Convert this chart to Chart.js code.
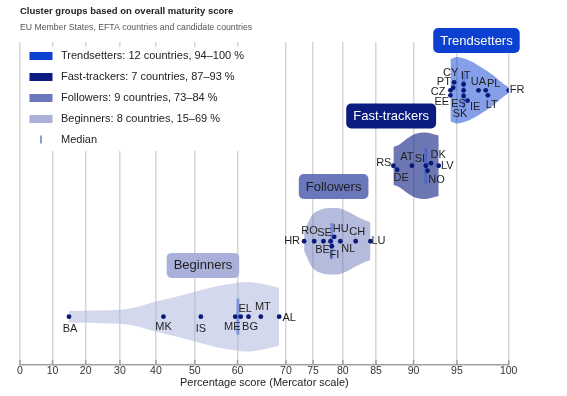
<!DOCTYPE html>
<html>
<head>
<meta charset="utf-8">
<title>Cluster groups based on overall maturity score</title>
<script src="https://cdn.jsdelivr.net/npm/chart.js@4.4.1/dist/chart.umd.min.js"></script>
<style>
  html, body { margin: 0; padding: 0; background: #fff; }
  #wrap { width: 567px; height: 396px; position: relative; }
</style>
</head>
<body>
<div id="wrap"><canvas id="chart"></canvas></div>
<script>
// Cluster groups, bottom row first
const groupNames = ['Beginners', 'Followers', 'Fast-trackers', 'Trendsetters'];
const groupRows = [1, 2, 3, 4];
const xTicks = [0, 10, 20, 30, 40, 50, 60, 70, 75, 80, 85, 90, 95, 100];

// Countries and scores (%)
const beginnerCodes = ['BA', 'MK', 'IS', 'ME', 'EL', 'BG', 'MT', 'AL'];
const beginnerScores = [15, 42, 51.5, 59.5, 60.7, 62.4, 65, 68.7];
const beginnerJitter = [0, 0, 0, 0, 0, 0, 0, 0];

const followerCodes = ['HR', 'RO', 'SE', 'BE', 'HU', 'FI', 'NL', 'CH', 'LU'];
const followerScores = [73.4, 75.2, 76.8, 78.0, 78.6, 78.2, 79.6, 82.0, 84.2];
const followerJitter = [0, 0, 0, 0, 0.058, -0.066, 0, 0, 0];

const fastCodes = ['RS', 'DE', 'AT', 'SI', 'DK', 'NO', 'LV'];
const fastScores = [87.4, 87.9, 89.8, 91.5, 92.1, 91.7, 93.0];
const fastJitter = [0, -0.053, 0, 0, 0.035, -0.066, 0];

const trendCodes = ['CY', 'PT', 'CZ', 'EE', 'IT', 'SK', 'ES', 'IE', 'UA', 'PL', 'LT', 'FR'];
const trendScores = [94.7, 94.6, 94.3, 94.3, 95.7, 95.7, 95.7, 96.1, 97.2, 97.9, 98.1, 100];
const trendJitter = [0.106, 0.035, 0, -0.066, 0.08, 0, -0.075, -0.137, 0, 0, -0.066, 0];

// Violin outlines: score positions and half widths (row units)
const beginnerViolinX = [15, 20, 25, 30, 35, 40, 45, 50, 55, 60, 62, 65, 68.7];
const beginnerViolinW = [0.08, 0.08, 0.086, 0.093, 0.13, 0.2, 0.26, 0.33, 0.4, 0.45, 0.46, 0.44, 0.38];
const followerViolinX = [73.4, 74.8, 76.4, 78, 79, 80.6, 82.8, 84.2];
const followerViolinW = [0.13, 0.34, 0.42, 0.44, 0.44, 0.4, 0.3, 0.25];
const fastViolinX = [87.4, 88.3, 89.2, 90.2, 91.5, 92.3, 93];
const fastViolinW = [0.25, 0.29, 0.36, 0.42, 0.44, 0.42, 0.4];
const trendViolinX = [94.3, 95, 96, 97.3, 98.6, 99.5, 100];
const trendViolinW = [0.41, 0.44, 0.41, 0.32, 0.2, 0.09, 0.04];

const codes = [beginnerCodes, followerCodes, fastCodes, trendCodes];
const scores = [beginnerScores, followerScores, fastScores, trendScores];
const jitter = [beginnerJitter, followerJitter, fastJitter, trendJitter];
const violinX = [beginnerViolinX, followerViolinX, fastViolinX, trendViolinX];
const violinW = [beginnerViolinW, followerViolinW, fastViolinW, trendViolinW];

// Styles
const groupColors = ['#a9b1da', '#6a78bb', '#0b1c80', '#0b40d1'];
const violinAlpha = [0.5, 0.5, 0.6, 0.5];
const tagTextColors = ['#1e1e1e', '#1e1e1e', '#ffffff', '#ffffff'];
const tagAnchors = [52, 78.5, 87.1, 97];
const tagRise = [0.68, 0.725, 0.66, 0.66];
const dotColor = '#0a1a7a';
const medianColor = 'rgba(45, 85, 215, 0.45)';
const FONT = '"Liberation Sans", Arial, sans-serif';

// label offsets from the dot, in pixels
const labelOffsets = {
    BA: [1, 12], MK: [0, 10], IS: [0, 12], ME: [-3, 10], EL: [4.5, -8], BG: [1.5, 10], MT: [2, -10], AL: [10, 1],
    HR: [-12, 0], RO: [-4.6, -10], SE: [1, -8.4], BE: [-8, 9], HU: [6.5, -8], FI: [2.5, 8.3], NL: [8, 7.6], CH: [1.5, -9], LU: [8, 0],
    RS: [-9.6, -2.7], DE: [4, 8.3], AT: [-5, -8.3], SI: [-6, -6.7], DK: [7.3, -8.3], NO: [9, 9.7], LV: [8.5, 0],
    CY: [-3.5, -9], PT: [-9.3, -5.4], CZ: [-12.4, 1.6], EE: [-8.7, 7], IT: [2, -8.6], SK: [-3.6, 23.3], ES: [-5, 8.3],
    IE: [7.6, 6], UA: [0, -8.4], PL: [8, -6.4], LT: [4, 9.3], FR: [8.4, 0]
};

// Mercator scale: score -> latitude, then Mercator projection
const MAX_LAT = 73.5 * Math.PI / 180;
function merc(p) {
    const phi = p / 100 * MAX_LAT;
    return Math.log(Math.tan(Math.PI / 4 + phi / 2));
}
function invMerc(m) {
    return (2 * Math.atan(Math.exp(m)) - Math.PI / 2) / MAX_LAT * 100;
}

class MercatorScale extends Chart.Scale {
    determineDataLimits() {
        this.min = this.options.min ?? 0;
        this.max = this.options.max ?? 100;
    }
    buildTicks() {
        return xTicks.map(v => ({ value: v }));
    }
    configure() {
        super.configure();
        this._start = merc(this.min);
        this._range = merc(this.max) - this._start;
    }
    getLabelForValue(v) {
        return String(v);
    }
    getPixelForValue(v) {
        return this.getPixelForDecimal((merc(v) - this._start) / this._range);
    }
    getValueForPixel(px) {
        return invMerc(this._start + this.getDecimalForPixel(px) * this._range);
    }
    getPixelForTick(i) {
        return this.getPixelForValue(this.ticks[i].value);
    }
}
MercatorScale.id = 'mercator';
MercatorScale.defaults = {};
Chart.register(MercatorScale);

function rgba(hex, a) {
    const n = parseInt(hex.slice(1), 16);
    return `rgba(${n >> 16}, ${(n >> 8) & 255}, ${n & 255}, ${a})`;
}

function median(arr) {
    const s = [...arr].sort((a, b) => a - b);
    const m = Math.floor(s.length / 2);
    return s.length % 2 ? s[m] : (s[m - 1] + s[m]) / 2;
}

function legendText(g) {
    const v = scores[g];
    const lo = Math.round(Math.min(...v));
    const hi = Math.round(Math.max(...v));
    return `${groupNames[g]}: ${v.length} countries, ${lo}\u2013${hi} %`;
}

// Build datasets: violins (top+bottom with fill between), medians, dots
const datasets = [];
groupNames.forEach((name, g) => {
    const row = groupRows[g];
    datasets.push({
        label: name + ' violin',
        data: violinX[g].map((x, i) => ({ x, y: row + violinW[g][i] })),
        fill: '+1',
        backgroundColor: rgba(groupColors[g], violinAlpha[g]),
        borderWidth: 0,
        pointRadius: 0,
        cubicInterpolationMode: 'monotone',
        order: 3
    });
    datasets.push({
        label: name + ' violin base',
        data: violinX[g].map((x, i) => ({ x, y: row - violinW[g][i] })),
        fill: false,
        borderWidth: 0,
        pointRadius: 0,
        cubicInterpolationMode: 'monotone',
        order: 3
    });
    const med = median(scores[g]);
    datasets.push({
        label: name + ' median',
        data: [{ x: med, y: row - 0.24 }, { x: med, y: row + 0.24 }],
        borderColor: medianColor,
        borderWidth: 3,
        pointRadius: 0,
        fill: false,
        order: 2
    });
    datasets.push({
        label: name,
        codes: codes[g],
        data: scores[g].map((x, i) => ({ x, y: row + jitter[g][i] })),
        showLine: false,
        pointRadius: 2.4,
        pointBackgroundColor: dotColor,
        pointBorderWidth: 0,
        order: 1
    });
});

const legendPlugin = {
    id: 'clusterLegend',
    beforeDatasetsDraw(chart) {
        const { ctx, chartArea } = chart;
        const left = chartArea.left, top = chartArea.top;
        ctx.save();
        // inward tick marks on the axis
        const xs = chart.scales.x;
        ctx.strokeStyle = '#a0a0a0';
        ctx.lineWidth = 1.5;
        xs.ticks.forEach((t, i) => {
            const px = xs.getPixelForTick(i);
            ctx.beginPath();
            ctx.moveTo(px, chartArea.bottom);
            ctx.lineTo(px, chartArea.bottom - 5);
            ctx.stroke();
        });
        // legend box
        ctx.fillStyle = '#fff';
        ctx.fillRect(left + 3, top + 5, 260, 104);
        ctx.font = '11px ' + FONT;
        ctx.textBaseline = 'middle';
        ctx.textAlign = 'left';
        [3, 2, 1, 0].forEach((g, k) => {
            const y = top + 14 + k * 21;
            ctx.fillStyle = groupColors[g];
            ctx.fillRect(left + 9.5, y - 4, 23, 8);
            ctx.fillStyle = '#222';
            ctx.fillText(legendText(g), left + 41, y);
        });
        const my = top + 97.5;
        ctx.fillStyle = '#8b9bd6';
        ctx.fillRect(left + 20, my - 4, 2, 8);
        ctx.fillStyle = '#222';
        ctx.fillText('Median', left + 41, my);
        ctx.restore();
    }
};

const tagPlugin = {
    id: 'groupTags',
    afterDatasetsDraw(chart) {
        const { ctx } = chart;
        const x = chart.scales.x, y = chart.scales.y;
        ctx.save();
        // country labels
        ctx.font = '11px ' + FONT;
        ctx.fillStyle = '#1f1f1f';
        ctx.textAlign = 'center';
        ctx.textBaseline = 'middle';
        chart.data.datasets.forEach((ds, di) => {
            if (!ds.codes) return;
            chart.getDatasetMeta(di).data.forEach((pt, i) => {
                const off = labelOffsets[ds.codes[i]] || [0, 10];
                ctx.fillText(ds.codes[i], pt.x + off[0], pt.y + off[1]);
            });
        });
        // group name tags
        ctx.font = '13px ' + FONT;
        groupNames.forEach((name, g) => {
            const cx = x.getPixelForValue(tagAnchors[g]);
            const cy = y.getPixelForValue(groupRows[g] + tagRise[g]);
            const w = ctx.measureText(name).width + 14, h = 25;
            ctx.fillStyle = groupColors[g];
            ctx.beginPath();
            ctx.roundRect(cx - w / 2, cy - h / 2, w, h, 5);
            ctx.fill();
            ctx.fillStyle = tagTextColors[g];
            ctx.fillText(name, cx, cy + 0.5);
        });
        ctx.restore();
    }
};

Chart.defaults.font.family = FONT;

new Chart(document.getElementById('chart').getContext('2d'), {
    type: 'line',
    data: { datasets },
    options: {
        responsive: true,
        maintainAspectRatio: false,
        animation: false,
        events: [],
        layout: { padding: { left: 20, right: 58.3, top: 0, bottom: 7.5 } },
        plugins: {
            legend: { display: false },
            tooltip: { enabled: false },
            title: {
                display: true,
                text: 'Cluster groups based on overall maturity score',
                align: 'start',
                color: '#222',
                font: { size: 9.5, weight: 'bold', lineHeight: 1.2 },
                padding: { top: 6, bottom: 0 }
            },
            subtitle: {
                display: true,
                text: 'EU Member States, EFTA countries and candidate countries',
                align: 'start',
                color: '#555',
                font: { size: 8.7, lineHeight: 1.2 },
                padding: { top: 5, bottom: 9.16 }
            }
        },
        scales: {
            x: {
                type: 'mercator',
                position: 'bottom',
                min: 0,
                max: 100,
                grid: { color: '#d6d6d6', lineWidth: 1.5, drawTicks: false },
                border: { display: true, color: '#a0a0a0', width: 1.5 },
                ticks: {
                    autoSkip: false,
                    maxRotation: 0,
                    padding: 1,
                    color: '#333',
                    font: { size: 10.5, lineHeight: 1 }
                },
                title: {
                    display: true,
                    text: 'Percentage score (Mercator scale)',
                    color: '#222',
                    font: { size: 11, lineHeight: 1 },
                    padding: 0
                }
            },
            y: {
                type: 'linear',
                display: false,
                min: 0.36,
                max: 4.64
            }
        }
    },
    plugins: [legendPlugin, tagPlugin]
});
</script>
</body>
</html>
